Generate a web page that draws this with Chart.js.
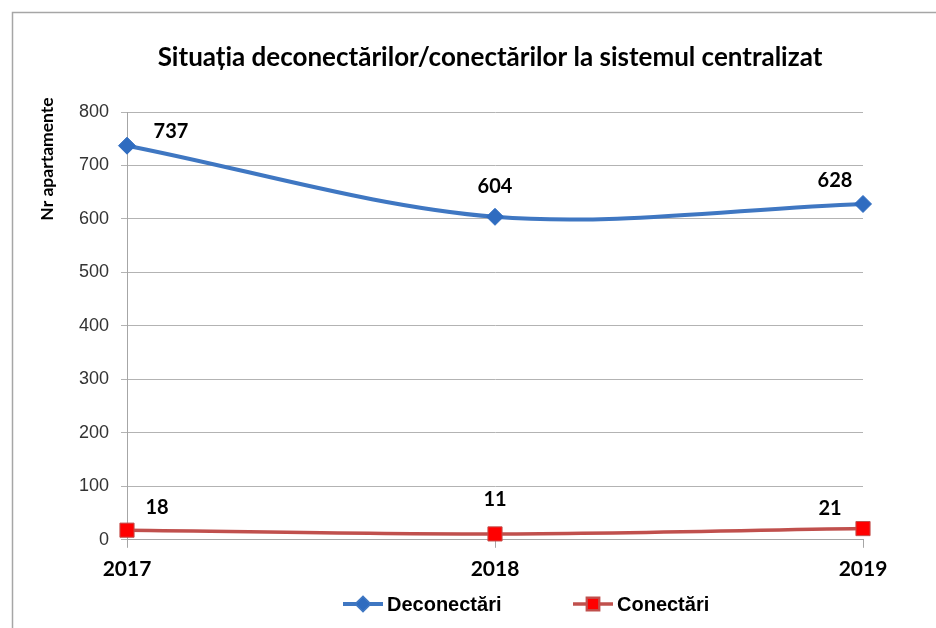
<!DOCTYPE html>
<html>
<head>
<meta charset="utf-8">
<script src="https://cdn.jsdelivr.net/npm/chart.js@4"></script>
<style>
  html, body { margin: 0; padding: 0; background: #fff; }
  #wrap { width: 936px; height: 628px; }
</style>
</head>
<body>
<div id="wrap"><canvas id="chart"></canvas></div>
<script>
const years = ['2017', '2018', '2019'];
const deconectari = [737, 604, 628];
const conectari = [18, 11, 21];
const yTicks = [0, 100, 200, 300, 400, 500, 600, 700, 800];

const chartTitle = 'Situația deconectărilor/conectărilor la sistemul centralizat';
const yTitle = 'Nr apartamente';

// label offsets from each point (first / middle / last)
const labelShift = [
  [[44, -14], [0, -30], [-28, -23]],
  [[30, -23], [0, -34], [-33, -20]]
];

// outer frame, title and rotated axis caption
const framePlugin = {
  id: 'frame',
  beforeDraw(chart) {
    const ctx = chart.ctx;
    ctx.save();
    ctx.strokeStyle = '#a6a6a6';
    ctx.lineWidth = 1.5;
    ctx.beginPath();
    ctx.moveTo(12.5, 628);
    ctx.lineTo(12.5, 12.5);
    ctx.lineTo(936, 12.5);
    ctx.stroke();

    ctx.fillStyle = '#000';
    ctx.textAlign = 'center';
    ctx.textBaseline = 'middle';
    ctx.font = 'bold 26px Lato';
    ctx.fillText(chartTitle, 490, 58);

    ctx.translate(47, 159);
    ctx.rotate(-Math.PI / 2);
    ctx.font = 'bold 17.5px Lato';
    ctx.fillText(yTitle, 0, 0);
    ctx.restore();
  }
};

const valueLabels = {
  id: 'valueLabels',
  afterDatasetsDraw(chart) {
    const ctx = chart.ctx;
    ctx.save();
    ctx.font = 'bold 20px Lato';
    ctx.fillStyle = '#000';
    ctx.textAlign = 'center';
    ctx.textBaseline = 'middle';
    chart.data.datasets.forEach((ds, i) => {
      chart.getDatasetMeta(i).data.forEach((pt, j) => {
        const s = labelShift[i][j];
        ctx.fillText(ds.data[j], pt.x + s[0], pt.y + s[1]);
      });
    });
    ctx.restore();
  }
};

// legend with line + marker sample
const lineLegend = {
  id: 'lineLegend',
  afterDraw(chart) {
    const ctx = chart.ctx;
    const y = 604;
    const items = [{ x: 343, ds: chart.data.datasets[0] }, { x: 573, ds: chart.data.datasets[1] }];
    ctx.save();
    items.forEach(it => {
      const ds = it.ds;
      ctx.strokeStyle = ds.borderColor;
      ctx.lineWidth = ds.borderWidth;
      ctx.beginPath();
      ctx.moveTo(it.x, y);
      ctx.lineTo(it.x + 40, y);
      ctx.stroke();
      Chart.helpers.drawPoint(ctx, {
        pointStyle: ds.pointStyle,
        radius: ds.pointStyle === 'rect' ? 8 : 6,
        borderWidth: 1
      }, it.x + 20, y);
      ctx.fillStyle = ds.pointBackgroundColor;
      ctx.strokeStyle = ds.pointBorderColor;
      ctx.lineWidth = 1;
      ctx.fill();
      ctx.stroke();
      ctx.fillStyle = '#000';
      ctx.font = 'bold 20px "Liberation Sans"';
      ctx.textAlign = 'left';
      ctx.textBaseline = 'middle';
      ctx.fillText(ds.label, it.x + 44, y + 1);
    });
    ctx.restore();
  }
};

new Chart(document.getElementById('chart'), {
  type: 'line',
  data: {
    labels: years,
    datasets: [{
      label: 'Deconectări',
      data: deconectari,
      borderColor: '#3F77C2',
      borderWidth: 4,
      pointStyle: 'rectRot',
      pointRadius: 8.5,
      pointBackgroundColor: '#2F6CC0',
      pointBorderColor: '#2F6CC0',
      pointBorderWidth: 1,
      tension: 0.33,
      clip: false
    }, {
      label: 'Conectări',
      data: conectari,
      borderColor: '#C0504D',
      borderWidth: 3.5,
      pointStyle: 'rect',
      pointRadius: 10,
      pointBackgroundColor: '#FF0000',
      pointBorderColor: '#C0504D',
      pointBorderWidth: 1,
      tension: 0.33,
      clip: false
    }]
  },
  options: {
    responsive: true,
    maintainAspectRatio: false,
    animation: false,
    layout: {
      padding: { top: 112, left: 30, right: 73, bottom: 37 }
    },
    scales: {
      x: {
        offset: false,
        grid: {
          display: true,
          drawOnChartArea: false,
          color: '#a6a6a6',
          tickLength: 8
        },
        border: { display: true, color: '#a6a6a6' },
        ticks: {
          color: '#000',
          font: { family: 'Lato', size: 21, weight: 'bold' },
          padding: 9,
          maxRotation: 0
        }
      },
      y: {
        min: 0,
        max: 800,
        afterBuildTicks(scale) {
          scale.ticks = yTicks.map(v => ({ value: v }));
        },
        afterFit(scale) {
          scale.width = 97;
        },
        grid: {
          color: '#b3b3b3',
          tickLength: 6
        },
        border: { display: true, color: '#a6a6a6' },
        ticks: {
          color: '#333',
          font: { family: 'Liberation Sans', size: 18 },
          padding: 12
        }
      }
    },
    plugins: {
      legend: { display: false },
      tooltip: { enabled: false },
      title: { display: false }
    }
  },
  plugins: [framePlugin, valueLabels, lineLegend]
});
</script>
</body>
</html>
